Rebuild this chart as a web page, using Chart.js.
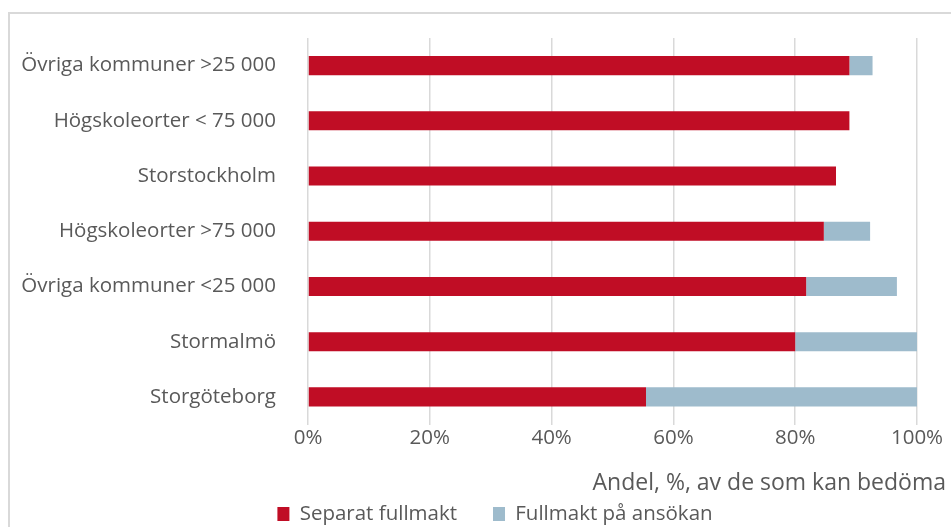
<!DOCTYPE html>
<html lang="sv">
<head>
    <meta charset="UTF-8">
    <title>Fullmakt per region</title>
    <script src="https://cdn.jsdelivr.net/npm/chart.js"></script>
    <style>
        body {
            margin: 0;
            padding: 0;
            background: #fff;
            overflow: hidden;
        }

        .wrap {
            position: relative;
            width: 951px;
            height: 527px;
        }

        .frame {
            position: absolute;
            left: 8px;
            top: 12px;
            width: 1000px;
            height: 600px;
            border: 2px solid #d9d9d9;
        }

        canvas {
            position: absolute;
            left: 0;
            top: 0;
        }
    </style>
</head>
<body>
    <div class="wrap">
        <div class="frame"></div>
        <canvas id="chart" width="951" height="527"></canvas>
    </div>

    <script>
        const categories = [
            'Övriga kommuner >25 000',
            'Högskoleorter < 75 000',
            'Storstockholm',
            'Högskoleorter >75 000',
            'Övriga kommuner <25 000',
            'Stormalmö',
            'Storgöteborg'
        ];
        const separatFullmakt = [88.9, 88.9, 86.7, 84.7, 81.8, 80.0, 55.5];
        const fullmaktAnsokan = [3.8, 0, 0, 7.6, 14.9, 20.0, 44.5];
        const xTicks = [0, 20, 40, 60, 80, 100];

        const textColor = '#595959';
        const fontFamily = '"Open Sans", sans-serif';

        // the plot runs a bit past 100% in the original, up to the frame edge
        const xMax = 100 * (946 - 308) / (917 - 308);

        // legend sits a little right of the canvas centre in the original
        const legendPlace = {
            id: 'legendPlace',
            afterLayout(chart) {
                const lg = chart.legend;
                const opts = chart.options.plugins.legend.labels;
                const dx = 495 - (lg.left + lg.right) / 2;
                const dy = 514 - opts.padding - opts.font.size / 2 - lg.top;
                lg.left += dx;
                lg.right += dx;
                lg.top += dy;
                lg.bottom += dy;
            }
        };

        const ctx = document.getElementById('chart').getContext('2d');
        new Chart(ctx, {
            type: 'bar',
            data: {
                labels: categories,
                datasets: [
                    {
                        label: 'Separat fullmakt',
                        data: separatFullmakt,
                        backgroundColor: '#c00d25',
                        barPercentage: 0.345,
                        categoryPercentage: 1
                    },
                    {
                        label: 'Fullmakt på ansökan',
                        data: fullmaktAnsokan,
                        backgroundColor: '#9ebbcc',
                        barPercentage: 0.345,
                        categoryPercentage: 1
                    }
                ]
            },
            plugins: [legendPlace],
            options: {
                indexAxis: 'y',
                responsive: false,
                animation: false,
                layout: {
                    padding: { left: 18, right: 5, top: 38, bottom: 0 }
                },
                scales: {
                    x: {
                        stacked: true,
                        min: 0,
                        max: xMax,
                        afterBuildTicks: function(scale) {
                            scale.ticks = xTicks.map(v => ({ value: v }));
                        },
                        afterFit: function(scale) {
                            scale.height = 36;
                        },
                        grid: {
                            color: '#d9d9d9',
                            lineWidth: 1.5,
                            drawTicks: false
                        },
                        border: { display: false },
                        ticks: {
                            padding: 1,
                            color: textColor,
                            font: { family: fontFamily, size: 20.5 },
                            callback: v => v + '%'
                        },
                        title: {
                            display: true,
                            text: 'Andel, %, av de som kan bedöma',
                            align: 'end',
                            color: textColor,
                            font: { family: fontFamily, size: 23 },
                            padding: { top: 0, bottom: -36.5 }
                        }
                    },
                    y: {
                        stacked: true,
                        afterFit: function(scale) {
                            scale.width = 290;
                            scale.paddingTop = 0;
                            scale.paddingBottom = 0;
                        },
                        grid: { display: false, drawTicks: false },
                        border: { display: false },
                        ticks: {
                            padding: 32,
                            color: textColor,
                            font: { family: fontFamily, size: 20.5 }
                        }
                    }
                },
                plugins: {
                    legend: {
                        position: 'bottom',
                        labels: {
                            boxWidth: 12,
                            boxHeight: 14,
                            padding: 36,
                            color: textColor,
                            font: { family: fontFamily, size: 20.5 }
                        }
                    },
                    tooltip: { enabled: false }
                }
            }
        });
    </script>
</body>
</html>
